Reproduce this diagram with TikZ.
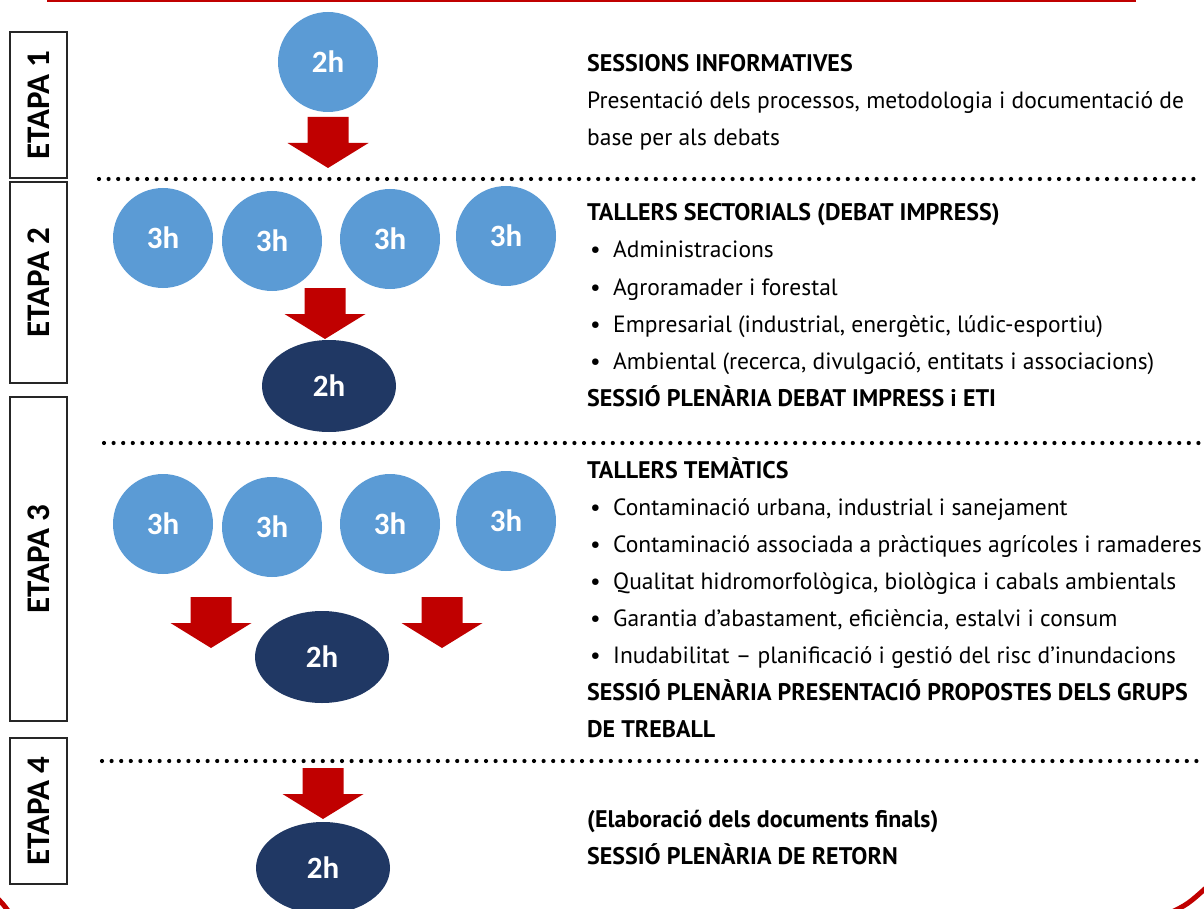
\documentclass[tikz,border=0pt]{standalone}
\usepackage{fontspec}
\setmainfont{PT Sans}
\newfontfamily\calib{Carlito}
\usetikzlibrary{shapes.geometric}
\usepackage{xcolor}
\definecolor{blau}{HTML}{5B9BD5}
\definecolor{mari}{HTML}{203864}
\definecolor{vermell}{HTML}{C00000}

\tikzset{
  etapa/.style={draw=black!85, line width=1.3pt, rotate=90, inner sep=0pt,
    minimum height=57pt, font=\calib\fontsize{33}{33}\selectfont\bfseries},
  hores/.style={circle, fill=blau, minimum size=100pt, inner sep=0pt,
    text=white, font=\calib\fontsize{31}{31}\selectfont\bfseries},
  plenari/.style={ellipse, fill=mari, minimum width=134pt, minimum height=92pt,
    inner sep=0pt, text=white, font=\calib\fontsize{31}{31}\selectfont\bfseries},
  punts/.style={line width=4.2pt, line cap=round, dash pattern=on 0pt off 9.6pt},
  linia/.style={anchor=base west, inner sep=0pt, font=\fontsize{23.5}{28}\selectfont},
  titol/.style={linia, font=\fontsize{24}{28}\selectfont\bfseries},
  fletxa/.pic={\fill[vermell] (-20.5,0) -- (20.5,0) -- (20.5,26) -- (40.5,26)
    -- (0,51) -- (-40.5,26) -- (-20.5,26) -- cycle;}
}
\newcommand{\pnt}{\makebox[25pt][l]{\hspace{2pt}•}}

\begin{document}
\begin{tikzpicture}[x=1pt,y=-1pt]
\useasboundingbox (0,0) rectangle (1204,909);
% marc vermell
\draw[vermell, line width=2.5pt] (47,0.5) -- (1136,0.5);
\draw[vermell, line width=5pt] (-3,898) .. controls (3,904) .. (9,912);
\draw[vermell, line width=5pt] (1170,913) .. controls (1188,904) .. (1207,887);
% etapes
\node[etapa, minimum width=146pt] (e1) at (38.5,105) {ETAPA 1};
\node[etapa, minimum width=201pt] (e2) at (38.5,282.5) {ETAPA 2};
\node[etapa, minimum width=324pt] (e3) at (38.5,559) {ETAPA 3};
\node[etapa, minimum width=146pt] (e4) at (38.5,811) {ETAPA 4};
% separadors
\coordinate (s1a) at (99,179); \coordinate (s1b) at (1196,179);
\coordinate (s2a) at (104,443); \coordinate (s2b) at (1200,443);
\coordinate (s3a) at (102,761); \coordinate (s3b) at (1198,761);
\draw[punts] (s1a) -- (s1b);
\draw[punts] (s2a) -- (s2b);
\draw[punts] (s3a) -- (s3b);
% etapa 1
\node[hores] (h1) at (328,62) {2h};
\pic at (328,117) {fletxa};
% etapa 2
\node[hores] (h21) at (163,238) {3h};
\node[hores] (h22) at (272,241) {3h};
\node[hores] (h23) at (390,239) {3h};
\node[hores] (h24) at (506,236) {3h};
\pic at (325,288) {fletxa};
\node[plenari] (p2) at (329,386) {2h};
% etapa 3
\node[hores] (h31) at (163,524) {3h};
\node[hores] (h32) at (272,527) {3h};
\node[hores] (h33) at (390,524) {3h};
\node[hores] (h34) at (506,521) {3h};
\pic at (211,597) {fletxa};
\pic at (442,597) {fletxa};
\node[plenari] (p3) at (322,657) {2h};
% etapa 4
\pic at (323,768) {fletxa};
\node[plenari] (p4) at (323,868) {2h};
% textos
\node[titol] (t1) at (587,72) {SESSIONS INFORMATIVES};
\node[linia] (t1a) at (587,109) {Presentació dels processos, metodologia i documentació de};
\node[linia] (t1b) at (587,146) {base per als debats};
\node[titol] (t2) at (587,221) {TALLERS SECTORIALS (DEBAT IMPRESS)};
\node[linia] (t2a) at (588,258) {\pnt Administracions};
\node[linia] (t2b) at (588,295) {\pnt Agroramader i forestal};
\node[linia] (t2c) at (588,332) {\pnt Empresarial (industrial, energètic, lúdic-esportiu)};
\node[linia] (t2d) at (588,369) {\pnt Ambiental (recerca, divulgació, entitats i associacions)};
\node[titol] (t2e) at (587,406) {SESSIÓ PLENÀRIA DEBAT IMPRESS i ETI};
\node[titol] (t3) at (587,478) {TALLERS TEMÀTICS};
\node[linia] (t3a) at (588,515) {\pnt Contaminació urbana, industrial i sanejament};
\node[linia] (t3b) at (588,552) {\pnt Contaminació associada a pràctiques agrícoles i ramaderes};
\node[linia] (t3c) at (588,589) {\pnt Qualitat hidromorfològica, biològica i cabals ambientals};
\node[linia] (t3d) at (588,626) {\pnt Garantia d’abastament, eficiència, estalvi i consum};
\node[linia] (t3e) at (588,663) {\pnt Inudabilitat – planificació i gestió del risc d’inundacions};
\node[titol] (t3f) at (587,700) {SESSIÓ PLENÀRIA PRESENTACIÓ PROPOSTES DELS GRUPS};
\node[titol] (t3g) at (587,737) {DE TREBALL};
\node[titol] (t4) at (587,827) {(Elaboració dels documents finals)};
\node[titol] (t4a) at (587,864) {SESSIÓ PLENÀRIA DE RETORN};
\end{tikzpicture}
\end{document}
